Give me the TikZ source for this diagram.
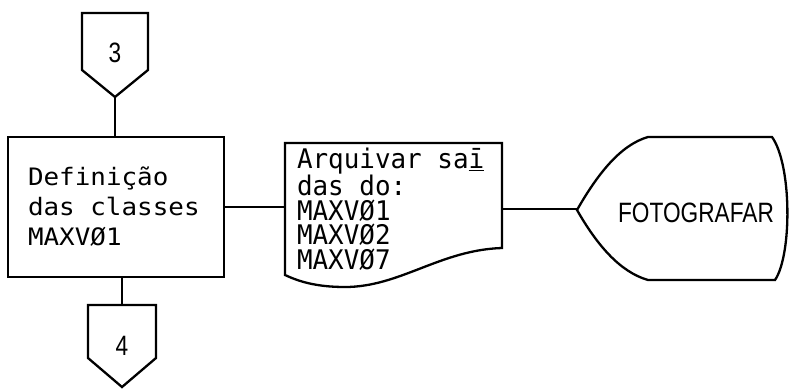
\documentclass[tikz,border=0pt]{standalone}
\usepackage{fontspec}
\newfontfamily\monof[FakeStretch=0.96]{DejaVu Sans Mono}
\newfontfamily\monowide[FakeStretch=1.08]{DejaVu Sans Mono}
\newfontfamily\condf[FakeStretch=0.81]{Liberation Sans}
\setlength{\lineskiplimit}{-30pt}
\newcommand{\mspA}{\hbox to 0.578em{}}
\newcommand{\mspB}{\hbox to 0.650em{}}
\begin{document}
\begin{tikzpicture}[x=1pt,y=-1pt]
\useasboundingbox (0,0) rectangle (789,389);
\tikzset{
  shapeline/.style={draw=black, line width=2.3pt, line join=miter},
  conn/.style={draw=black, line width=2.3pt},
  hold/.style={inner sep=0pt, outer sep=0pt},
  condtext/.style={font=\condf\fontsize{28}{30}\selectfont},
}
% process box
\node[shapeline, hold, minimum width=216pt, minimum height=140pt,
      text width=176pt, inner xsep=20pt, align=left,
      font=\monowide\fontsize{24}{30}\selectfont] (def) at (116,207)
      {\raisebox{-3pt}{Definição}\\\raisebox{-3pt}{das\mspB classes}\\\raisebox{-3pt}{MAXVØ1}};
% document
\node[hold, minimum width=217pt, minimum height=132pt,
      text width=193pt, inner xsep=12pt, align=left,
      font=\monof\fontsize{27}{24.5}\selectfont] (doc) at (393.5,209)
      {Arquivar\mspA sa\underline{ī}\\das\mspA do:\\MAXVØ1\\MAXVØ2\\MAXVØ7};
\draw[shapeline] (285,143) -- (502,143) -- (502,248)
  .. controls (440,250) and (400,287) .. (345,287)
  .. controls (315,287) and (298,281) .. (285,275) -- cycle;
% display
\node[hold, minimum width=236pt, minimum height=143pt, condtext] (disp) at (696,213) {FOTOGRAFAR};
\draw[shapeline] (577,210) .. controls (597,175) and (620,145) .. (648,137) -- (772,137)
  .. controls (792,165) and (792,255) .. (775,280) -- (648,280)
  .. controls (620,272) and (597,245) .. (577,210) -- cycle;
% off-page connectors
\node[hold, minimum width=66pt, minimum height=88pt, condtext] (c3) at (115,53) {3};
\draw[shapeline] (82,13) -- (148,13) -- (148,70) -- (c3.south) -- (82,70) -- cycle;
\node[hold, minimum width=68pt, minimum height=82pt, condtext] (c4) at (122,346) {4};
\draw[shapeline] (88,305) -- (156,305) -- (156,358) -- (c4.south) -- (88,358) -- cycle;
% connectors
\draw[conn] (c3.south) -- (c3.south |- def.north);
\draw[conn] (c4.north |- def.south) -- (c4.north);
\draw[conn] (def.east) -- (def.east -| doc.west);
\draw[conn] (doc.east) -- (doc.east -| disp.west);
\end{tikzpicture}
\end{document}
